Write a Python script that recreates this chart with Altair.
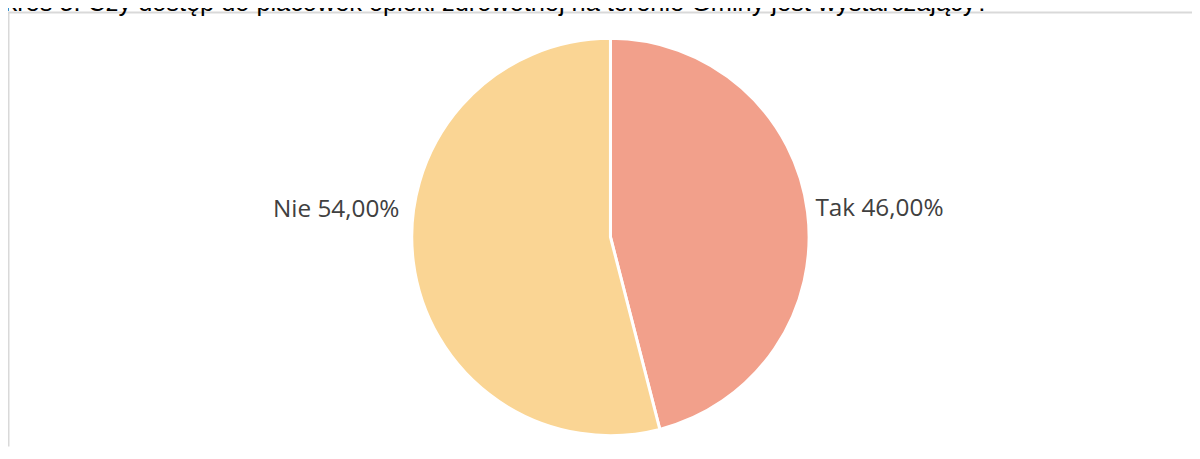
import altair as alt
import pandas as pd

title_text = "Wykres 5. Czy dostęp do placówek opieki zdrowotnej na terenie Gminy jest wystarczający?"
categories = ["Tak", "Nie"]
values = [46.0, 54.0]
colors = ["#F2A08B", "#FAD594"]

df = pd.DataFrame({
    "cat": categories,
    "v": values,
    "idx": list(range(len(categories))),
    "label": [f"{c} {v:.2f}".replace(".", ",") + "%" for c, v in zip(categories, values)],
})

W, H = 1192, 440
CX, CY = 606.5, 229

theta_scale = alt.Scale(domain=[0, 100])

base = alt.Chart(df)

arcs = base.mark_arc(outerRadius=200, stroke="white", strokeWidth=3).encode(
    theta=alt.Theta("v:Q", stack=True, scale=theta_scale),
    order=alt.Order("idx:Q"),
    color=alt.Color("cat:N", scale=alt.Scale(domain=categories, range=colors), legend=None),
    x=alt.value(CX), y=alt.value(CY),
)

lab_base = base.transform_window(
    cum="sum(v)", sort=[alt.SortField("idx")], frame=[None, 0]
).transform_calculate(mid="datum.cum - datum.v / 2")

def label_layer(cat, align, dx, dy):
    return lab_base.transform_filter(alt.datum.cat == cat).mark_text(
        radius=206, align=align, baseline="middle", fontSize=24.5,
        font="Open Sans", color="#404040", dx=dx, dy=dy,
    ).encode(
        theta=alt.Theta("mid:Q", stack=None, scale=theta_scale),
        text="label:N",
        x=alt.value(CX), y=alt.value(CY),
    )

tak_lab = label_layer("Tak", "left", 2, -2)
nie_lab = label_layer("Nie", "right", -8, -53)

frame_top = alt.Chart(pd.DataFrame({"a": [0]})).mark_rule(color="#D9D9D9", strokeWidth=2).encode(
    x=alt.value(0), x2=alt.value(W), y=alt.value(3)
)
frame_left = alt.Chart(pd.DataFrame({"a": [0]})).mark_rule(color="#D9D9D9", strokeWidth=1.5).encode(
    x=alt.value(0.75), y=alt.value(3), y2=alt.value(H)
)

title = alt.Chart(pd.DataFrame({"t": [title_text]})).mark_text(
    align="right", baseline="alphabetic", fontSize=25.5, font="Liberation Sans", color="#000000"
).encode(text="t:N", x=alt.value(988), y=alt.value(2))

chart = alt.layer(frame_top, frame_left, arcs, tak_lab, nie_lab, title).properties(
    width=W, height=H,
    autosize=alt.AutoSizeParams(type="none"),
    padding=0,
    background="white",
).configure_view(stroke=None)

chart.save("out.html", embed_options={"renderer": "svg", "actions": False})
